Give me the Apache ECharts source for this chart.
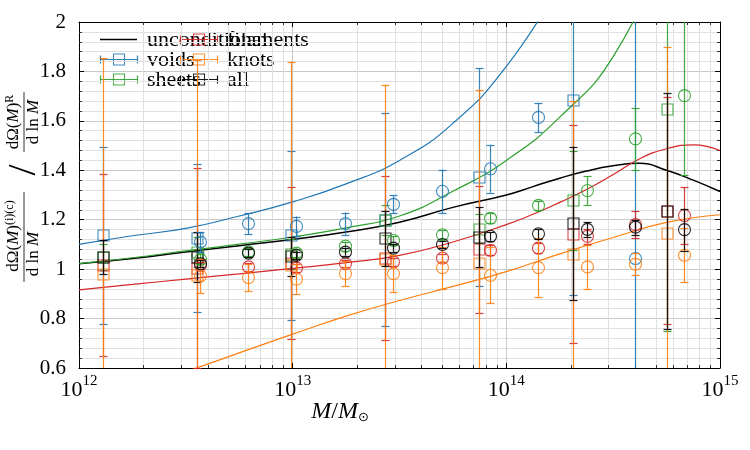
<!DOCTYPE html>
<html><head><meta charset="utf-8">
<script src="https://cdn.jsdelivr.net/npm/echarts@6/dist/echarts.min.js"></script>
<style>html,body{margin:0;padding:0;background:#fff}#c{width:750px;height:450px}</style>
</head><body><div id="c"></div>
<script>
const FONT = '"Liberation Serif","DejaVu Serif",serif';

// ---- axis ticks ----
const xTickExponents = [12, 13, 14, 15];
const yMin = 0.6, yMax = 2.0, yStep = 0.2;

// ---- model curves (x = log10 M) ----
const curveX = [12.0, 12.25, 12.5, 12.75, 13.0, 13.25, 13.5, 13.75, 14.0, 14.25, 14.5, 14.75, 15.0];
const voidsCurveY = [1.10, 1.135, 1.165, 1.215, 1.272, 1.345, 1.44, 1.59, 1.82, 2.15, null, null, null];
const sheetsCurveY = [1.022, 1.046, 1.074, 1.101, 1.13, 1.167, 1.215, 1.315, 1.44, 1.615, 1.86, 2.3, null];
const knotsCurveY = [null, 0.51, 0.585, 0.661, 0.737, 0.81, 0.873, 0.93, 0.99, 1.062, 1.128, 1.189, 1.22];
const peakCurveX = [12.0, 12.25, 12.5, 12.75, 13.0, 13.25, 13.5, 13.75, 14.0, 14.125, 14.25, 14.375, 14.5, 14.625, 14.75, 14.875, 15.0];
const uncondY    = [1.022, 1.043, 1.069, 1.095, 1.12, 1.15, 1.19, 1.25, 1.30, 1.334, 1.368, 1.397, 1.418, 1.428, 1.40, 1.36, 1.314];
const filamentsCurveY = [0.916, 0.938, 0.96, 0.981, 1.003, 1.026, 1.056, 1.11, 1.18, 1.222, 1.27, 1.322, 1.383, 1.447, 1.487, 1.503, 1.48];

// ---- binned measurements: squares ----
const sqLogM = [12.11, 12.55, 12.99, 13.43, 13.87, 14.31, 14.75];
const voidsSq = [1.137, 1.127, 1.137, 1.20, 1.373, 1.685, null];
const voidsSqErr = [0.358, 0.30, 0.343, 0.43, 0.44, 0.79, null];
const sheetsSq = [1.05, 1.07, 1.06, 1.20, 1.164, 1.278, 1.648];
const sheetsSqErr = [0.053, 0.06, 0.06, 0.06, 0.06, 0.2, 0.9];
const filamentsSq = [1.015, 1.005, 1.024, 1.045, 1.08, 1.142, 1.237];
const filamentsSqErr = [0.368, 0.405, 0.308, 0.333, 0.258, 0.44, 0.46];
const knotsSq = [0.982, 0.975, 1.015, 1.04, 1.026, 1.06, 1.147];
const knotsSqErr = [0.872, 0.87, 0.825, 0.706, 0.70, 0.62, 0.75];
const allSq = [1.049, 1.05, 1.052, 1.124, 1.13, 1.186, 1.235];
const allSqErr = [0.07, 0.1, 0.08, 0.113, 0.12, 0.31, 0.477];

// ---- binned measurements: circles ----
const ciLogM = [12.565, 12.79, 13.017, 13.243, 13.47, 13.697, 13.923, 14.15, 14.376, 14.603, 14.83];
const voidsCi = [1.11, 1.184, 1.173, 1.184, 1.262, 1.315, 1.406, 1.614, null, 1.043, null];
const voidsCiErr = [0.04, 0.042, 0.04, 0.045, 0.036, 0.088, 0.097, 0.059, null, 1.2, null];
const sheetsCi = [1.04, 1.07, 1.065, 1.093, 1.116, 1.139, 1.206, 1.258, 1.318, 1.527, 1.702];
const sheetsCiErr = [0.02, 0.015, 0.015, 0.018, 0.018, 0.018, 0.02, 0.018, 0.058, 0.125, 0.32];
const filamentsCi = [1.015, 1.009, 1.005, 1.022, 1.029, 1.045, 1.076, 1.085, 1.133, 1.18, 1.217];
const filamentsCiErr = [0.015, 0.015, 0.015, 0.015, 0.015, 0.018, 0.02, 0.02, 0.03, 0.055, 0.115];
const knotsCi = [0.973, 0.966, 0.96, 0.982, 0.982, 1.006, 0.975, 1.006, 1.009, 1.02, 1.056];
const knotsCiErr = [0.07, 0.055, 0.06, 0.05, 0.075, 0.085, 0.114, 0.118, 0.09, 0.045, 0.11];
const allCi = [1.022, 1.065, 1.056, 1.069, 1.085, 1.1, 1.133, 1.143, 1.161, 1.17, 1.16];
const allCiErr = [0.015, 0.015, 0.015, 0.015, 0.015, 0.015, 0.018, 0.02, 0.03, 0.03, 0.085];

const legendLabels = ['unconditional', 'voids', 'sheets', 'filaments', 'knots', 'all'];
const C = {unconditional:'#000000', voids:'#1f77b4', sheets:'#2ca02c', filaments:'#d62728', knots:'#ff7f0e', all:'#000000'};

// minor log tick positions
const minorX = [];
for (let i = 0; i < xTickExponents.length - 1; i++) {
  for (let k = 2; k <= 9; k++) minorX.push(xTickExponents[i] + Math.log10(k));
}

function zip(xs, ys) { const out = []; xs.forEach((x, i) => { if (ys[i] != null) out.push([x, ys[i]]); }); return out; }
function curve(name, xs, ys, color, w) {
  return {type:'line', name, data: zip(xs, ys), symbol:'none', showSymbol:false, smooth:0.5,
    lineStyle:{color, width:w}, clip:true, z:3, silent:true, animation:false};
}
const EW = 1.2, EO = 0.9;
function errSeries(name, xs, vals, errs, color, shape) {
  const data = [];
  xs.forEach((x, i) => { if (vals[i] != null) data.push([x, vals[i], errs[i]]); });
  return {
    type:'custom', name, data, encode:{x:0, y:1}, z:4, silent:true, animation:false,
    renderItem(params, api) {
      const x = api.value(0), v = api.value(1), e = api.value(2);
      const cs = params.coordSys; const top = cs.y, bot = cs.y + cs.height;
      const p = api.coord([x, v]), ph = api.coord([x, v + e]), pl = api.coord([x, v - e]);
      const px = Math.round(p[0]) + 0.5;
      const st = {stroke:color, lineWidth:EW, opacity:EO};
      const ch = [];
      const y1 = Math.max(ph[1], top), y2 = Math.min(pl[1], bot);
      ch.push({type:'line', shape:{x1:px, y1, x2:px, y2}, style:st});
      if (ph[1] >= top - 0.5) ch.push({type:'line', shape:{x1:px-4, y1:Math.round(ph[1])+0.5, x2:px+4, y2:Math.round(ph[1])+0.5}, style:st});
      if (pl[1] <= bot + 0.5) ch.push({type:'line', shape:{x1:px-4, y1:Math.round(pl[1])+0.5, x2:px+4, y2:Math.round(pl[1])+0.5}, style:st});
      if (shape === 'square') ch.push({type:'rect', shape:{x:px-5.5, y:Math.round(p[1])-5, width:11, height:11}, style:{fill:'none', stroke:color, lineWidth:1.1, opacity:0.85}});
      else ch.push({type:'circle', shape:{cx:px, cy:p[1], r:6}, style:{fill:'none', stroke:color, lineWidth:1.1, opacity:0.85}});
      return {type:'group', children: ch};
    }
  };
}

const series = [
  {type:'custom', name:'minorgrid', data: minorX.map(x => [x, 1]), encode:{x:0, y:1}, z:1, silent:true, animation:false,
    renderItem(params, api) {
      const cs = params.coordSys;
      const px = Math.round(api.coord([api.value(0), 1])[0]) + 0.5;
      return {type:'group', children:[
        {type:'line', shape:{x1:px, y1:cs.y, x2:px, y2:cs.y+cs.height}, style:{stroke:'#e0e0e0', lineWidth:1}},
        {type:'line', shape:{x1:px, y1:cs.y+cs.height, x2:px, y2:cs.y+cs.height-3}, style:{stroke:'#333', lineWidth:1}},
        {type:'line', shape:{x1:px, y1:cs.y, x2:px, y2:cs.y+3}, style:{stroke:'#333', lineWidth:1}}
      ]};
    }},
  curve('unconditional', peakCurveX, uncondY, C.unconditional, 1.5),
  curve('voids model', curveX, voidsCurveY, C.voids, 1.2),
  curve('sheets model', curveX, sheetsCurveY, C.sheets, 1.2),
  curve('filaments model', peakCurveX, filamentsCurveY, C.filaments, 1.2),
  curve('knots model', curveX, knotsCurveY, C.knots, 1.2),
  errSeries('voids', sqLogM, voidsSq, voidsSqErr, C.voids, 'square'),
  errSeries('sheets', sqLogM, sheetsSq, sheetsSqErr, C.sheets, 'square'),
  errSeries('filaments', sqLogM, filamentsSq, filamentsSqErr, C.filaments, 'square'),
  errSeries('knots', sqLogM, knotsSq, knotsSqErr, C.knots, 'square'),
  errSeries('all', sqLogM, allSq, allSqErr, C.all, 'square'),
  errSeries('voids c', ciLogM, voidsCi, voidsCiErr, C.voids, 'circle'),
  errSeries('sheets c', ciLogM, sheetsCi, sheetsCiErr, C.sheets, 'circle'),
  errSeries('filaments c', ciLogM, filamentsCi, filamentsCiErr, C.filaments, 'circle'),
  errSeries('knots c', ciLogM, knotsCi, knotsCiErr, C.knots, 'circle'),
  errSeries('all c', ciLogM, allCi, allCiErr, C.all, 'circle')
];

// ---- legend drawn as graphic ----
const legendPos = [[100, 39], [100, 59], [100, 79], [180, 39], [180, 59], [180, 79]];
const legendEls = [];
legendLabels.forEach((lab, i) => {
  const [x0, y] = legendPos[i]; const col = C[lab]; const yy = y + 0.5;
  if (lab === 'unconditional') {
    legendEls.push({type:'line', shape:{x1:x0, y1:yy, x2:x0+37, y2:yy}, style:{stroke:col, lineWidth:1.3}});
  } else {
    const st = {stroke:col, lineWidth:EW, opacity:EO};
    legendEls.push({type:'line', shape:{x1:x0, y1:yy, x2:x0+38, y2:yy}, style:st});
    legendEls.push({type:'line', shape:{x1:x0+0.5, y1:yy-4, x2:x0+0.5, y2:yy+4}, style:st});
    legendEls.push({type:'line', shape:{x1:x0+37.5, y1:yy-4, x2:x0+37.5, y2:yy+4}, style:st});
    legendEls.push({type:'rect', shape:{x:x0+13.5, y:yy-5.5, width:11, height:11}, style:{fill:'none', stroke:col, lineWidth:1.1, opacity:0.85}});
  }
  legendEls.push({type:'text', x:x0+47, y:y+1, style:{text:lab, font:'22px ' + FONT, fill:'#000', textVerticalAlign:'middle', verticalAlign:'middle'}});
});

// y-axis label (rotated fractions)
const fracRich = {
  r:{fontFamily:FONT, fontSize:17, fill:'#000'},
  i:{fontFamily:FONT, fontSize:17, fontStyle:'italic', fill:'#000'},
  s:{fontFamily:FONT, fontSize:12, fill:'#000', verticalAlign:'top'}
};
const yLabel = {
  type:'group', x:24, y:194, rotation:Math.PI/2, children:[
    {type:'text', x:-42, y:-10, style:{text:'{r|dΩ(}{i|M}{r|)}{s|(i)(c)}', rich:fracRich, align:'center', verticalAlign:'middle', lineHeight:20}},
    {type:'line', shape:{x1:-88, y1:0, x2:2, y2:0}, style:{stroke:'#000', lineWidth:0.8}},
    {type:'text', x:-60, y:10, style:{text:'{r|d ln }{i|M}', rich:fracRich, align:'center', verticalAlign:'middle'}},
    {type:'text', x:24, y:0, style:{text:'/', font:'40px ' + FONT, fill:'#000', align:'center', verticalAlign:'middle'}},
    {type:'text', x:72, y:-10, style:{text:'{r|dΩ(}{i|M}{r|)}{s|R}', rich:fracRich, align:'center', verticalAlign:'middle', lineHeight:20}},
    {type:'line', shape:{x1:42, y1:0, x2:102, y2:0}, style:{stroke:'#000', lineWidth:0.8}},
    {type:'text', x:72, y:10, style:{text:'{r|d ln }{i|M}', rich:fracRich, align:'center', verticalAlign:'middle'}}
  ]
};
const xLabel = {
  type:'text', x:340, y:412, style:{text:'{i|M}{r|/}{i|M}{s|⊙}', align:'center', verticalAlign:'middle',
    rich:{i:{fontFamily:FONT, fontSize:24, fontStyle:'italic', fill:'#000'}, r:{fontFamily:FONT, fontSize:24, fill:'#000'}, s:{fontFamily:'"DejaVu Sans"', fontSize:13, fill:'#000', verticalAlign:'bottom'}}}
};

const axisCommon = {
  axisLine:{show:true, onZero:false, lineStyle:{color:'#000', width:1}},
  axisTick:{show:true, inside:true, length:5, lineStyle:{color:'#000'}}
};

const option = {
  animation:false,
  grid:{left:79, right:30, top:22, bottom:82, containLabel:false},
  xAxis:[
    Object.assign({type:'value', min:xTickExponents[0], max:xTickExponents[xTickExponents.length-1], interval:1, position:'bottom',
      axisLabel:{margin:6, formatter: v => '{b|10}{s|' + Math.round(v) + '}',
        rich:{b:{fontFamily:FONT, fontSize:22, color:'#000', verticalAlign:'bottom', lineHeight:27}, s:{fontFamily:FONT, fontSize:15, color:'#000', verticalAlign:'top', lineHeight:27}}},
      splitLine:{show:true, lineStyle:{color:'#c8c8c8'}}}, axisCommon),
    Object.assign({type:'value', min:xTickExponents[0], max:xTickExponents[xTickExponents.length-1], interval:1, position:'top',
      axisLabel:{show:false}, splitLine:{show:false}}, axisCommon)
  ],
  yAxis:[
    Object.assign({type:'value', min:yMin, max:yMax, interval:yStep, position:'left',
      axisLabel:{margin:13, fontFamily:FONT, fontSize:21, color:'#000'},
      minorTick:{show:true, splitNumber:5, length:3, lineStyle:{color:'#333'}},
      minorSplitLine:{show:true, lineStyle:{color:'#e0e0e0'}},
      splitLine:{show:true, lineStyle:{color:'#c8c8c8'}}}, axisCommon),
    Object.assign({type:'value', min:yMin, max:yMax, interval:yStep, position:'right',
      axisLabel:{show:false}, splitLine:{show:false},
      minorTick:{show:true, splitNumber:5, length:3, lineStyle:{color:'#333'}}}, axisCommon)
  ],
  graphic:[{type:'group', children:legendEls, z:100}, yLabel, xLabel],
  series
};
const chart = echarts.init(document.getElementById('c'), null, {renderer:'canvas'});
chart.setOption(option);
</script></body></html>
